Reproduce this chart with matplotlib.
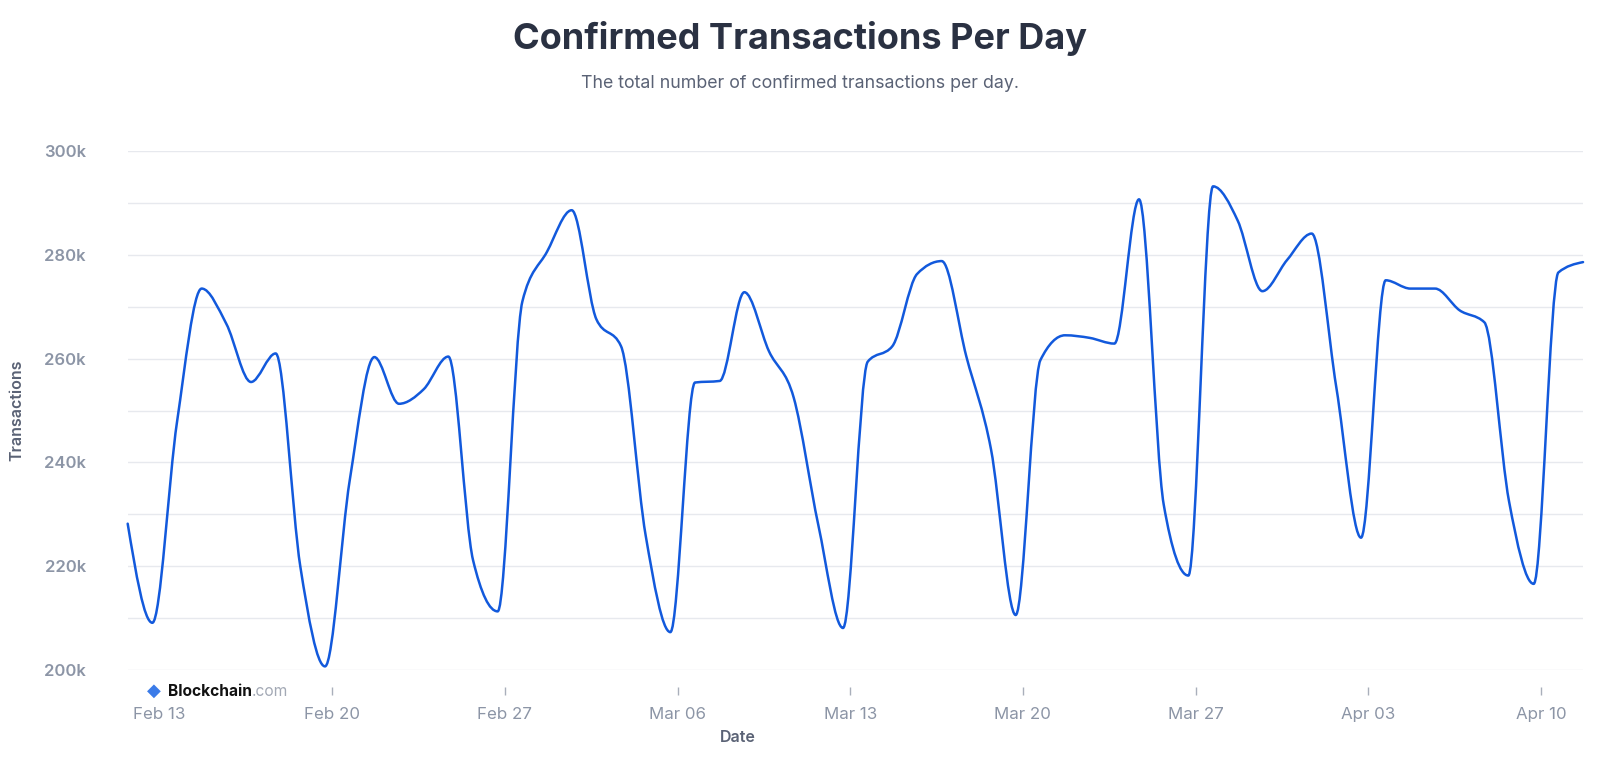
import matplotlib
matplotlib.use('Agg')
import matplotlib.pyplot as plt
import matplotlib.dates as mdates
from matplotlib.path import Path
from matplotlib.patches import PathPatch
import numpy as np
import pandas as pd

plt.rcParams['font.family'] = ['Inter', 'DejaVu Sans']

# daily values, stamped at 17:00 (how the chart places its points)
dates = pd.date_range('2023-02-11 17:00', periods=60, freq='D')
transactions = [
    228200, 209100, 247800, 273500, 266700, 255500, 261000, 219900, 200700, 236500,
    260300, 251300, 254100, 260400, 221200, 211300, 271000, 280600, 288600, 267600,
    262400, 225900, 207300, 255400, 255700, 272800, 261400, 252500, 227900, 208100,
    259400, 262400, 276300, 278800, 260400, 242500, 210600, 259700, 264500, 264000,
    262900, 290700, 231900, 218200, 293200, 286600, 273000, 279000, 284100, 254400,
    225500, 275100, 273500, 273500, 269300, 267000, 232500, 216600, 276600, 278600,
]
tick_dates = pd.date_range('2023-02-13', '2023-04-10', freq='7D')
tick_labels = [d.strftime('%b %d') for d in tick_dates]
y_major = list(range(200000, 300001, 20000))
y_minor = list(range(210000, 300000, 20000))

LINE = '#1259dc'
GRID = '#e7e9ee'


def monotone_path(x, y):
    # same curve as d3's curveMonotoneX, as cubic bezier segments
    x = np.asarray(x, float)
    y = np.asarray(y, float)
    n = len(x)
    h = np.diff(x)
    s = np.diff(y) / h
    t = np.zeros(n)
    for i in range(1, n - 1):
        p = (s[i - 1] * h[i] + s[i] * h[i - 1]) / (h[i - 1] + h[i])
        t[i] = (np.sign(s[i - 1]) + np.sign(s[i])) * min(abs(s[i - 1]), abs(s[i]), 0.5 * abs(p))
    t[0] = (3 * s[0] - t[1]) / 2
    t[-1] = (3 * s[-1] - t[-2]) / 2
    verts = [(x[0], y[0])]
    codes = [Path.MOVETO]
    for i in range(n - 1):
        dx = h[i] / 3
        verts += [(x[i] + dx, y[i] + dx * t[i]),
                  (x[i + 1] - dx, y[i + 1] - dx * t[i + 1]),
                  (x[i + 1], y[i + 1])]
        codes += [Path.CURVE4] * 3
    return Path(verts, codes)


fig = plt.figure(figsize=(16, 7.66), dpi=100)
ax = fig.add_axes([0.0798, 0.1253, 0.9096, 0.6775])

xs = mdates.date2num(dates)
ax.add_patch(PathPatch(monotone_path(xs, transactions), fill=False,
                       edgecolor=LINE, lw=1.8, capstyle='round',
                       joinstyle='round', clip_on=False, zorder=3))

ax.set_xlim(xs[0], xs[-1])
ax.set_ylim(200000, 300000)

ax.set_yticks(y_major)
ax.set_yticks(y_minor, minor=True)
ax.set_yticklabels([f'{v // 1000}k' for v in y_major])
ax.yaxis.grid(True, which='both', color=GRID, lw=1)
ax.tick_params(axis='y', which='both', length=0, pad=30,
               labelsize=12, labelcolor='#8c95a6')
for lab in ax.get_yticklabels():
    lab.set_fontweight('semibold')

# first date label sits under the watermark, so it gets no tick mark
tick_nums = mdates.date2num(tick_dates)
ax.set_xticks(tick_nums[1:])
ax.set_xticklabels(tick_labels[1:])
ax.set_xticks(tick_nums[:1], minor=True)
ax.set_xticklabels(tick_labels[:1], minor=True)
ax.tick_params(axis='x', which='major', length=6, width=1, color='#a9afbb', pad=8,
               labelsize=12.2, labelcolor='#8c95a6')
ax.tick_params(axis='x', which='minor', length=0, pad=14,
               labelsize=12.2, labelcolor='#8c95a6')
for lab in ax.get_xticklabels() + ax.get_xticklabels(minor=True):
    lab.set_fontweight('semibold')

for side in ['top', 'right', 'left', 'bottom']:
    ax.spines[side].set_visible(False)
ax.spines['bottom'].set_position(('outward', 12.5))
ax.set_axisbelow(True)

fig.text(0.5, 1 - 39 / 766, 'Confirmed Transactions Per Day', ha='center', va='center',
         fontsize=26, fontweight='bold', color='#2a3142')
fig.text(0.5, 1 - 83 / 766, 'The total number of confirmed transactions per day.',
         ha='center', va='center', fontsize=12.8, color='#5a6275')
fig.text(17 / 1600, 1 - 410 / 766, 'Transactions', rotation=90, ha='center', va='center',
         fontsize=11.5, fontweight='semibold', color='#5a6275')
fig.text(738 / 1600, 1 - 738 / 766, 'Date', ha='center', va='center',
         fontsize=11.5, fontweight='semibold', color='#5a6275')

# watermark
fig.text(147 / 1600, 1 - 691 / 766, '\u25c6', ha='left', va='center',
         fontsize=13, color='#3b7be8', family=['DejaVu Sans'])
brand = fig.text(168 / 1600, 1 - 691 / 766, 'Blockchain', ha='left', va='center',
                 fontsize=11.2, fontweight='bold', color='#111111')
fig.canvas.draw()
bb = brand.get_window_extent()
fig.text(bb.x1 / 1600, 1 - 691 / 766, '.com', ha='left', va='center',
         fontsize=11.2, color='#a3a9b5')

fig.savefig('out.png', dpi=100, facecolor='white')
